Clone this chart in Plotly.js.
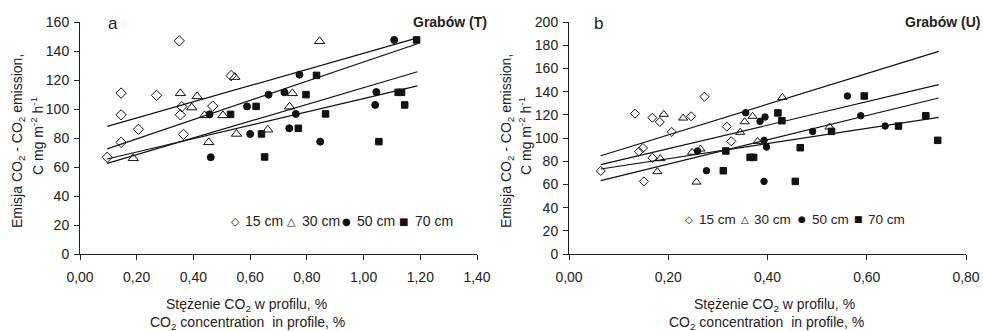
<!DOCTYPE html>
<html>
<head>
<meta charset="utf-8">
<script src="https://cdn.plot.ly/plotly-3.0.1.min.js"></script>
<style>html,body{margin:0;padding:0;background:#fff;}#chart{width:983px;height:331px;}</style>
</head>
<body>
<div id="chart"></div>
<script>
// ---------- Panel a: Grabów (T) ----------
var a15_x = [0.096, 0.145, 0.145, 0.145, 0.206, 0.27, 0.35, 0.359, 0.354, 0.365, 0.468, 0.533];
var a15_y = [66.7, 111, 96, 77, 86, 109.4, 147, 101.6, 96, 82.5, 102, 123];
var a30_x = [0.188, 0.354, 0.394, 0.413, 0.439, 0.454, 0.504, 0.546, 0.552, 0.662, 0.739, 0.749, 0.845];
var a30_y = [66, 110.8, 101, 108.7, 95.6, 77, 95.6, 122, 82.8, 85.7, 101.6, 110.8, 146.7];
var a50_x = [0.457, 0.461, 0.589, 0.6, 0.665, 0.721, 0.738, 0.761, 0.774, 0.847, 1.041, 1.045, 1.108];
var a50_y = [96.3, 66.7, 101.8, 82.8, 109.9, 111.5, 86.7, 96.6, 123.7, 77.5, 102.8, 111.7, 147.6];
var a70_x = [0.531, 0.621, 0.64, 0.651, 0.77, 0.797, 0.834, 0.866, 1.054, 1.122, 1.134, 1.145, 1.187];
var a70_y = [96.3, 101.8, 82.8, 66.9, 86.7, 109.9, 123.2, 96.6, 77.5, 111.5, 111.5, 102.8, 147.6];
var aTrend_x = [0.096, 1.19];
var aTrend1 = [88, 149];
var aTrend2 = [72.5, 145];
var aTrend3 = [65.5, 116];
var aTrend4 = [62.5, 125.7];

// ---------- Panel b: Grabów (U) ----------
var b15_x = [0.064, 0.133, 0.141, 0.149, 0.151, 0.168, 0.183, 0.168, 0.207, 0.246, 0.273, 0.318, 0.327];
var b15_y = [71.6, 121, 88.2, 91.4, 62.6, 117.5, 113.8, 82.8, 105.2, 118.7, 135.6, 109.8, 97.1];
var b30_x = [0.178, 0.184, 0.191, 0.23, 0.248, 0.265, 0.257, 0.345, 0.354, 0.37, 0.38, 0.43, 0.525];
var b30_y = [71, 82.2, 120.4, 117.2, 87.7, 90.5, 62, 104.9, 114, 118.7, 97.1, 135, 109.5];
var b50_x = [0.259, 0.277, 0.356, 0.385, 0.395, 0.393, 0.398, 0.393, 0.491, 0.561, 0.588, 0.637];
var b50_y = [88.8, 71.8, 121.8, 114.4, 118.1, 98, 92.2, 62.6, 105.7, 136.2, 119.2, 110.3];
var b70_x = [0.311, 0.316, 0.365, 0.372, 0.421, 0.429, 0.456, 0.466, 0.529, 0.595, 0.664, 0.719, 0.743];
var b70_y = [71.8, 88.8, 83.3, 83.3, 121.6, 114.9, 62.6, 91.6, 105.7, 136.2, 110.3, 119.2, 98];
var bTrend_x = [0.064, 0.745];
var bTrend1 = [84.7, 174.7];
var bTrend2 = [77, 146];
var bTrend3 = [73.3, 117.8];
var bTrend4 = [63.2, 134.5];

var legendLabels = ['15 cm', '30 cm', '50 cm', '70 cm'];
var legendGlyphs = ['\u25C7', '\u25B3', '\u25CF', '\u25A0'];

var INK = '#111';
var FONT = 'Liberation Sans, Arial, sans-serif';

function pts(x, y, xa, ya, sym, size) {
  return {x: x, y: y, xaxis: xa, yaxis: ya, type: 'scatter', mode: 'markers',
    marker: {symbol: sym, size: size, color: INK, line: {color: INK, width: 1}},
    showlegend: false, hoverinfo: 'skip'};
}
function trend(x, y, xa, ya) {
  return {x: x, y: y, xaxis: xa, yaxis: ya, type: 'scatter', mode: 'lines',
    line: {color: INK, width: 1.2}, showlegend: false, hoverinfo: 'skip'};
}

var data = [
  trend(aTrend_x, aTrend1, 'x', 'y'), trend(aTrend_x, aTrend2, 'x', 'y'),
  trend(aTrend_x, aTrend3, 'x', 'y'), trend(aTrend_x, aTrend4, 'x', 'y'),
  pts(a15_x, a15_y, 'x', 'y', 'diamond-open', 8),
  pts(a30_x, a30_y, 'x', 'y', 'triangle-up-open', 9),
  pts(a50_x, a50_y, 'x', 'y', 'circle', 7),
  pts(a70_x, a70_y, 'x', 'y', 'square', 6.5),
  trend(bTrend_x, bTrend1, 'x2', 'y2'), trend(bTrend_x, bTrend2, 'x2', 'y2'),
  trend(bTrend_x, bTrend3, 'x2', 'y2'), trend(bTrend_x, bTrend4, 'x2', 'y2'),
  pts(b15_x, b15_y, 'x2', 'y2', 'diamond-open', 7),
  pts(b30_x, b30_y, 'x2', 'y2', 'triangle-up-open', 8),
  pts(b50_x, b50_y, 'x2', 'y2', 'circle', 6.5),
  pts(b70_x, b70_y, 'x2', 'y2', 'square', 6.5)
];

var ML = 80, MR = 17, MT = 22, MB = 77, W = 983, H = 331;
var PW = W - ML - MR, PH = H - MT - MB;
function px(x) { return (x - ML) / PW; }
function py(y) { return (H - MB - y) / PH; }

var axisCommon = {
  showgrid: false, zeroline: false, showline: true, linecolor: '#222', linewidth: 1,
  ticks: 'outside', ticklen: 5, tickwidth: 1, tickcolor: '#222',
  tickfont: {family: FONT, size: 14, color: '#222'}, fixedrange: true
};
function ax(extra) { return Object.assign({}, axisCommon, extra); }

var ann = [];
function txt(x, y, text, opts) {
  ann.push(Object.assign({xref: 'paper', yref: 'paper', x: px(x), y: py(y), text: text,
    showarrow: false, xanchor: 'center', yanchor: 'middle',
    font: {family: FONT, size: 14, color: '#222'}}, opts || {}));
}

// panel labels
txt(106, 24, 'a', {xanchor: 'left', font: {family: FONT, size: 17, color: '#222'}});
txt(592, 24, 'b', {xanchor: 'left', font: {family: FONT, size: 17, color: '#222'}});
txt(489, 22, '<b>Grabów (T)</b>', {xanchor: 'right'});
txt(982, 22, '<b>Grabów (U)</b>', {xanchor: 'right'});

// y titles
var yt1 = 'Emisja CO<sub>2</sub> - CO<sub>2</sub> emission,';
var yt2 = 'C mg m<sup>-2</sup> h<sup>-1</sup>';
txt(18, 141, yt1, {textangle: -90});
txt(37, 136, yt2, {textangle: -90});
txt(507, 141, yt1, {textangle: -90});
txt(525, 136, yt2, {textangle: -90});

// x titles
var xt1 = 'Stężenie CO<sub>2</sub> w profilu, %';
var xt2 = 'CO<sub>2</sub> concentration\u00a0 in profile, %';
txt(246, 305, xt1);
txt(247, 323, xt2);
txt(774, 305, xt1);
txt(766, 323, xt2);

// legends
var legA_sym = [235, 291, 346, 403], legA_txt = [243, 300, 355, 413];
var legB_sym = [689, 745, 802, 858], legB_txt = [697, 752, 810, 866];
for (var i = 0; i < 4; i++) {
  txt(legA_sym[i], 221, legendGlyphs[i], {font: {family: 'DejaVu Sans', size: i < 2 ? 11 : 10, color: INK}});
  txt(legA_txt[i], 221, legendLabels[i], {xanchor: 'left'});
  txt(legB_sym[i], 219, legendGlyphs[i], {font: {family: 'DejaVu Sans', size: i < 2 ? 10 : 9, color: INK}});
  txt(legB_txt[i], 219, legendLabels[i], {xanchor: 'left', font: {family: FONT, size: 13.5, color: '#222'}});
}

var layout = {
  width: W, height: H,
  margin: {l: ML, r: MR, t: MT, b: MB, pad: 0},
  paper_bgcolor: '#fff', plot_bgcolor: '#fff',
  separators: ', ',
  showlegend: false,
  font: {family: FONT, size: 14, color: '#222'},
  xaxis: ax({domain: [0, 397 / PW], range: [0, 1.4], dtick: 0.2, tick0: 0, tickformat: '.2f', anchor: 'y', ticklabelstandoff: 5}),
  yaxis: ax({domain: [0, 1], range: [0, 160], dtick: 20, tick0: 0, anchor: 'x', ticklabelstandoff: 2}),
  xaxis2: ax({domain: [489 / PW, 1], range: [0, 0.8], dtick: 0.2, tick0: 0, tickformat: '.2f', anchor: 'y2', ticklabelstandoff: 5}),
  yaxis2: ax({domain: [0, 1], range: [0, 200], dtick: 20, tick0: 0, anchor: 'x2', ticklabelstandoff: 2}),
  annotations: ann
};

Plotly.newPlot('chart', data, layout, {displayModeBar: false, staticPlot: true});
</script>
</body>
</html>
